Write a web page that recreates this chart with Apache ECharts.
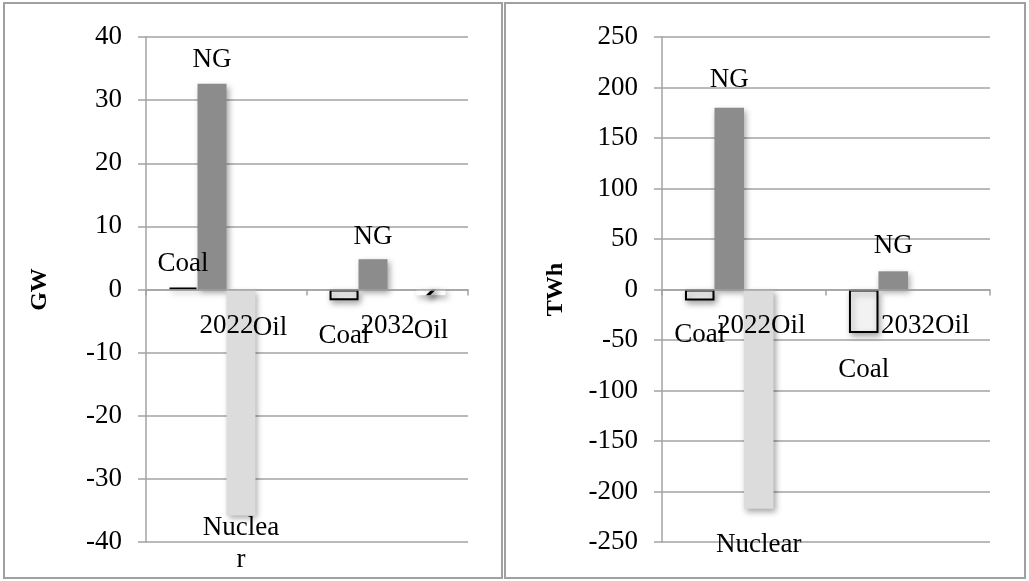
<!DOCTYPE html>
<html>
<head>
<meta charset="utf-8">
<script src="https://cdn.jsdelivr.net/npm/echarts@6/dist/echarts.min.js"></script>
<style>
  html, body { margin: 0; padding: 0; background: #fff; }
  #chart { width: 1029px; height: 581px; }
</style>
</head>
<body>
<div id="chart"></div>
<script>
// Change in capacity (GW) and generation (TWh) by fuel, 2022 and 2032
const categories = ['2022', '2032'];
const fuels = ['Coal', 'NG', 'Nuclear', 'Oil'];

const coalGW = [0.3, -1.7];
const ngGW = [32.6, 4.8];
const nuclearGW = [-35.8, null];
const oilGW = [0, -0.9];

const coalTWh = [-11, -43];
const ngTWh = [180, 18];
const nuclearTWh = [-217, null];
const oilTWh = [0, 0];

const gwTicks = { min: -40, max: 40, interval: 10 };
const twhTicks = { min: -250, max: 250, interval: 50 };

const FONT = '"Liberation Serif", "DejaVu Serif", serif';
const GRID_GRAY = '#a3a3a3';
const PLOT_TOP = 37, PLOT_BOTTOM = 39, CHART_H = 581;
// the category axis sits on the zero line, halfway up the symmetric value range
const ZERO_OFFSET = -(CHART_H - PLOT_TOP - PLOT_BOTTOM) / 2;

const fuelStyle = {
  Coal: { color: '#f2f2f2', borderColor: '#000', borderWidth: 2 },
  NG: { color: '#8c8c8c' },
  Nuclear: { color: '#dcdcdc' },
  Oil: {
    color: '#ffffff',
    decal: {
      symbol: 'rect', symbolSize: 1,
      dashArrayX: [1, 0], dashArrayY: [3, 12],
      rotation: -Math.PI / 4, color: '#000'
    }
  }
};

const shadow = {
  shadowColor: 'rgba(0,0,0,0.35)', shadowBlur: 6,
  shadowOffsetX: 2, shadowOffsetY: 3
};

// labels: series name placed outside the end of each bar
function labelled(values, name, overrides) {
  return values.map((v, i) => {
    if (v === null) return { value: null, label: { show: false } };
    const ov = (overrides && overrides[i]) || {};
    const pos = v > 0 ? 'top' : 'bottom';
    return {
      value: v,
      label: Object.assign({
        show: true, position: pos,
        distance: v > 0 ? 8 : 20,
        formatter: name
      }, ov)
    };
  });
}

function barSeries(name, values, axisIndex, overrides) {
  return {
    type: 'bar', name: name,
    xAxisIndex: axisIndex, yAxisIndex: axisIndex,
    barGap: '0%', barCategoryGap: '28%',
    itemStyle: Object.assign({}, fuelStyle[name], shadow),
    label: { fontFamily: FONT, fontSize: 27, color: '#000', lineHeight: 32 },
    data: labelled(values, name, overrides)
  };
}

function valueAxis(idx, ticks, title) {
  return {
    type: 'value', gridIndex: idx,
    min: ticks.min, max: ticks.max, interval: ticks.interval,
    name: title, nameLocation: 'middle', nameGap: 94, nameRotate: 90,
    nameTextStyle: { fontFamily: FONT, fontSize: 24, fontWeight: 'bold', color: '#000' },
    axisLine: { show: true, lineStyle: { color: GRID_GRAY, width: 1.5 } },
    axisTick: { show: true, length: 8, lineStyle: { color: GRID_GRAY, width: 1.5 } },
    axisLabel: { fontFamily: FONT, fontSize: 27, color: '#000', margin: 24 },
    splitLine: { show: true, lineStyle: { color: GRID_GRAY, width: 1.5 } }
  };
}

function categoryAxis(idx) {
  return {
    type: 'category', gridIndex: idx, data: categories,
    position: 'bottom', offset: ZERO_OFFSET, z: 10,
    axisLine: { show: true, onZero: false, lineStyle: { color: GRID_GRAY, width: 1.5 } },
    axisTick: { show: true, length: 6, lineStyle: { color: GRID_GRAY, width: 1.5 } },
    axisLabel: { fontFamily: FONT, fontSize: 27, color: '#000', margin: 23 }
  };
}

const chart = echarts.init(document.getElementById('chart'), null, { renderer: 'canvas' });

chart.setOption({
  backgroundColor: '#fff',
  animation: false,
  graphic: [
    { type: 'rect', shape: { x: 4, y: 3, width: 498, height: 575 },
      style: { fill: 'none', stroke: '#a0a0a0', lineWidth: 2 }, z: 0 },
    { type: 'rect', shape: { x: 505, y: 3, width: 520, height: 575 },
      style: { fill: 'none', stroke: '#a0a0a0', lineWidth: 2 }, z: 0 }
  ],
  grid: [
    { left: 146, right: 561, top: PLOT_TOP, bottom: PLOT_BOTTOM, containLabel: false },
    { left: 662, right: 39, top: PLOT_TOP, bottom: PLOT_BOTTOM, containLabel: false }
  ],
  xAxis: [categoryAxis(0), categoryAxis(1)],
  yAxis: [valueAxis(0, gwTicks, 'GW'), valueAxis(1, twhTicks, 'TWh')],
  series: [
    barSeries('Coal', coalGW, 0),
    barSeries('NG', ngGW, 0, { 0: { distance: 8 }, 1: { distance: 6 } }),
    barSeries('Nuclear', nuclearGW, 0, { 0: { formatter: 'Nuclea\nr', distance: -4 } }),
    barSeries('Oil', oilGW, 0, { 0: { distance: 22 }, 1: { distance: 20 } }),
    barSeries('Coal', coalTWh, 1, { 0: { distance: 18 }, 1: { distance: 21 } }),
    barSeries('NG', ngTWh, 1, { 0: { distance: 12 }, 1: { distance: 9 } }),
    barSeries('Nuclear', nuclearTWh, 1, { 0: { distance: 20 } }),
    barSeries('Oil', oilTWh, 1, { 0: { distance: 20 }, 1: { distance: 20 } })
  ]
});
</script>
</body>
</html>
